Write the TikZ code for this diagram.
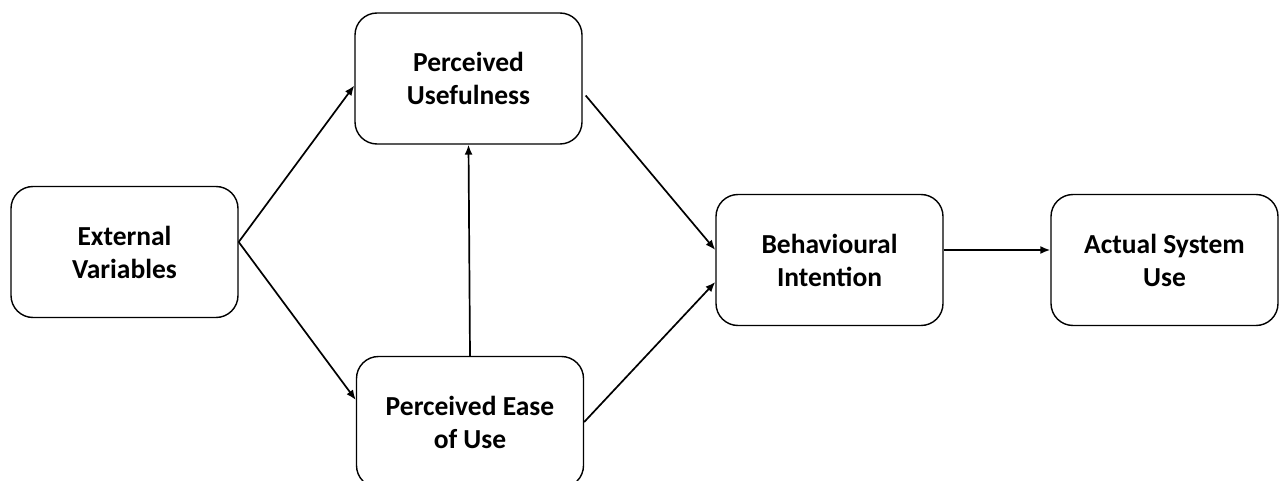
\documentclass[tikz,border=0pt]{standalone}
\usepackage{fontspec}
\setmainfont{Carlito}
\usetikzlibrary{arrows.meta}
\begin{document}
\begin{tikzpicture}[x=1pt,y=-1pt,
  box/.style={draw=black, line width=1.4pt, rounded corners=22pt, minimum width=227pt, minimum height=131pt,
    align=center, inner sep=0pt, font=\fontsize{27.5}{33}\selectfont\bfseries},
  conn/.style={line width=1.7pt, -{Latex[length=10pt,width=8pt]}}]
\useasboundingbox (0,0) rectangle (1282,481);
\clip (0,0) rectangle (1282,481);
\node[box] (EV) at (124.5,252) {External\\Variables};
\node[box] (PU) at (468.5,78.5) {Perceived\\Usefulness};
\node[box] (PEOU) at (470,422) {Perceived Ease\\of Use};
\node[box] (BI) at (829.5,260) {Behavioural\\Intention};
\node[box] (ASU) at (1164.5,260) {Actual System\\Use};
\draw[conn] ([yshift=10pt]EV.east) -- ([yshift=-7pt]PU.west);
\draw[conn] ([yshift=10pt]EV.east) -- ([yshift=22pt]PEOU.west);
\draw[conn] (PEOU.north) -- (PU.south);
\draw[conn] ([xshift=3pt,yshift=-17pt]PU.east) -- ([yshift=10pt]BI.west);
\draw[conn] (PEOU.east) -- ([yshift=-22pt]BI.west);
\draw[conn] ([yshift=10pt]BI.east) -- ([yshift=10pt]ASU.west);
\end{tikzpicture}
\end{document}
